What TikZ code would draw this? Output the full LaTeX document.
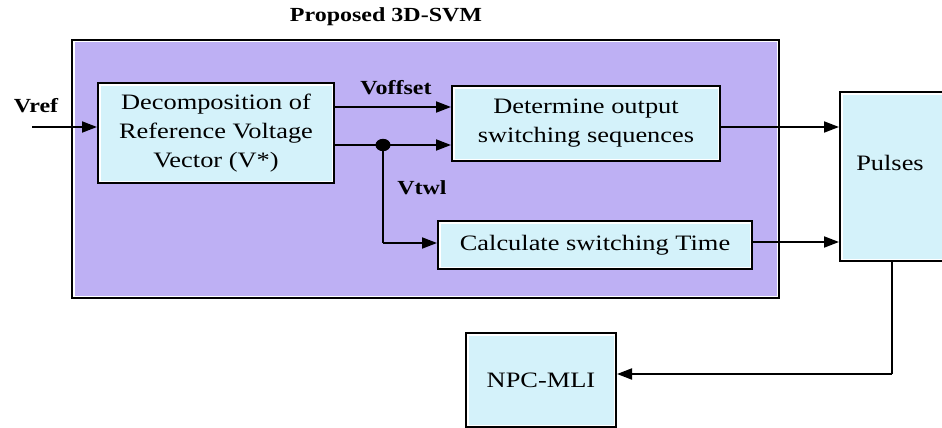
\documentclass[tikz,border=0pt]{standalone}
\usepackage{fontspec}
\setmainfont[FakeStretch=1.2]{Liberation Serif}
\usetikzlibrary{arrows.meta}
\definecolor{svmpurple}{RGB}{190,176,244}
\definecolor{boxcyan}{RGB}{212,242,250}
\tikzset{
  blk/.style={draw=black, line width=2pt, fill=boxcyan, inner sep=0pt,
    font=\fontsize{22}{29}\selectfont, align=center},
  lbl/.style={font=\fontsize{20}{24}\selectfont\bfseries, inner sep=0pt},
  txt/.style={font=\fontsize{22}{29}\selectfont, inner sep=0pt},
  arr/.style={line width=1.9pt, -{Triangle[length=15pt,width=11pt]}},
  wire/.style={line width=1.9pt},
}
% thin white inner rim drawn just inside a box border
\newcommand{\innerrim}[1]{%
  \draw[white, line width=1.2pt] ([shift={(2.9,2.9)}]#1.north west) rectangle ([shift={(-2.9,-2.9)}]#1.south east);}
\begin{document}
\begin{tikzpicture}[x=1pt,y=-1pt]
\useasboundingbox (0,0) rectangle (942,428);
\fill[white] (0,0) rectangle (942,428);

% title and outer block
\node[lbl] (title) at (386,17) {Proposed 3D-SVM};
\node[draw=black, line width=2pt, fill=svmpurple, minimum width=707pt, minimum height=258pt,
  anchor=north west, inner sep=0pt] (svm) at (71,39) {};
\innerrim{svm}

% inner blocks
\node[blk, minimum width=236pt, minimum height=100pt] (dec) at (216,133)
  {Decomposition of\\Reference Voltage\\Vector (V*)};
\innerrim{dec}
\node[blk, minimum width=268pt, minimum height=75pt] (det) at (586,123.5)
  {Determine output\\switching sequences};
\innerrim{det}
\node[blk, minimum width=314pt, minimum height=48pt] (calc) at (595,245)
  {Calculate switching Time};
\innerrim{calc}

% pulses block (runs past the right edge)
\node[blk, minimum width=106pt, minimum height=169pt, anchor=north west] (pulses) at (839,91) {};
\innerrim{pulses}
\node[txt] (pulsestxt) at (890,163) {Pulses};

% NPC-MLI block
\node[blk, minimum width=150pt, minimum height=94pt] (npc) at (541,380) {NPC-MLI};
\innerrim{npc}

% signal labels
\node[lbl] (vref) at (36,106) {Vref};
\node[lbl] (voff) at (396,88) {Voffset};
\node[lbl] (vtwl) at (422,188) {Vtwl};

% connectors
\coordinate (vin) at (32,127);
\draw[arr] (vin) -- (vin -| dec.west);

\coordinate (offy) at (0,107);
\draw[arr] (offy -| dec.east) -- (offy -| det.west);

\coordinate (tap) at (383,145);
\draw[arr] (tap -| dec.east) -- (tap -| det.west);
\coordinate (bend) at (383,243);
\draw[wire] (tap) -- (bend);
\draw[arr] (bend) -- (bend -| calc.west);
\fill (tap) ellipse [x radius=7.5, y radius=6.2];

\coordinate (seqy) at (0,127);
\draw[arr] (seqy -| det.east) -- (seqy -| pulses.west);
\coordinate (timey) at (0,242);
\draw[arr] (timey -| calc.east) -- (timey -| pulses.west);

\coordinate (drop) at (892,374);
\draw[wire] (drop |- pulses.south) -- (drop);
\draw[arr] (drop) -- (drop -| npc.east);
\end{tikzpicture}
\end{document}
